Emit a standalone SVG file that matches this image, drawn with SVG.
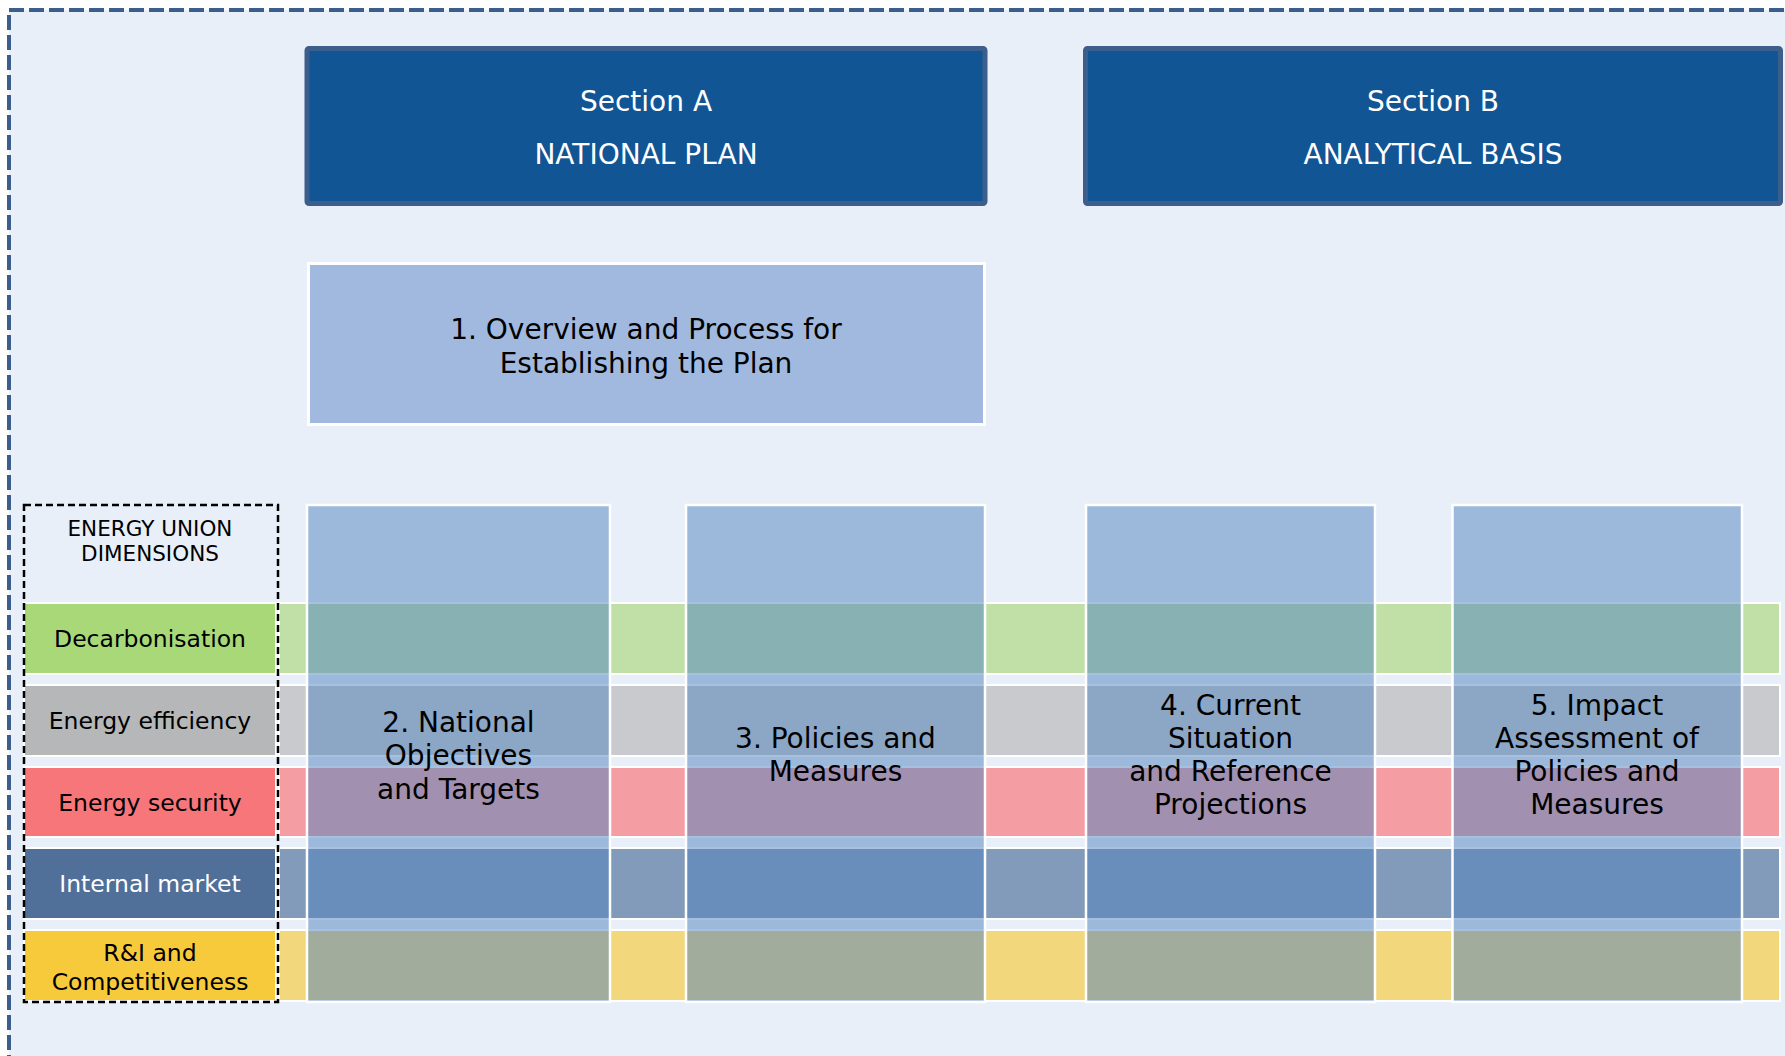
<svg xmlns="http://www.w3.org/2000/svg" width="1785" height="1056" viewBox="0 0 1785 1056">
  <style>
    text { font-family: "DejaVu Sans", Verdana, sans-serif; text-anchor: middle; }
    .sec { fill: #115595; stroke: #3b5e8c; stroke-width: 5; }
    .sectxt { fill: #ffffff; font-size: 28px; }
    .coltxt { fill: #000000; font-size: 28px; }
    .lbl { stroke: #ffffff; stroke-width: 2; }
    .band { stroke: #ffffff; stroke-width: 2; }
    .lbltxt { fill: #000000; font-size: 23.5px; }
    .col { fill: #4f81bd; fill-opacity: 0.5; stroke: #ffffff; stroke-width: 2.5; }
  </style>
  <rect x="0" y="0" width="1785" height="1056" fill="#ffffff"/>
  <rect id="frame" x="9" y="10" width="1800" height="1100" fill="#e8eff9" stroke="#3b5e8c" stroke-width="4" stroke-dasharray="15 5"/>

  <g id="section-a">
    <rect class="sec" x="307" y="48.5" width="678" height="155" rx="2"/>
    <text class="sectxt" x="646" y="111">Section A</text>
    <text class="sectxt" x="646" y="164">NATIONAL PLAN</text>
  </g>
  <g id="section-b">
    <rect class="sec" x="1085.5" y="48.5" width="695" height="155" rx="2"/>
    <text class="sectxt" x="1433" y="111">Section B</text>
    <text class="sectxt" x="1433" y="164">ANALYTICAL BASIS</text>
  </g>

  <g id="box-1">
    <rect x="308.5" y="263.5" width="676" height="161" fill="#a1b9de" stroke="#ffffff" stroke-width="3"/>
    <text class="coltxt" x="646" y="339">1. Overview and Process for</text>
    <text class="coltxt" x="646" y="373">Establishing the Plan</text>
  </g>

  <g id="bands">
    <rect class="band" x="279" y="603" width="1501" height="71" fill="#c0e0a8"/>
    <rect class="band" x="279" y="685" width="1501" height="71" fill="#c8cace"/>
    <rect class="band" x="279" y="767" width="1501" height="70" fill="#f49ea4"/>
    <rect class="band" x="279" y="848" width="1501" height="71" fill="#839bba"/>
    <rect class="band" x="279" y="930" width="1501" height="71" fill="#f2d77c"/>
  </g>

  <g id="dimensions">
    <text x="150" y="536" style="font-size:21.5px" fill="#000000">ENERGY UNION</text>
    <text x="150" y="561" style="font-size:21.5px" fill="#000000">DIMENSIONS</text>
    <g id="dim-decarbonisation">
      <rect class="lbl" x="24" y="603" width="252" height="71" fill="#a8d878"/>
      <text class="lbltxt" x="150" y="647">Decarbonisation</text>
    </g>
    <g id="dim-efficiency">
      <rect class="lbl" x="24" y="685" width="252" height="71" fill="#b6b7b9"/>
      <text class="lbltxt" x="150" y="729">Energy efficiency</text>
    </g>
    <g id="dim-security">
      <rect class="lbl" x="24" y="767" width="252" height="70" fill="#f7767a"/>
      <text class="lbltxt" x="150" y="810.5">Energy security</text>
    </g>
    <g id="dim-market">
      <rect class="lbl" x="24" y="848" width="252" height="71" fill="#50709a"/>
      <text class="lbltxt" x="150" y="892" fill="#ffffff" style="fill:#ffffff">Internal market</text>
    </g>
    <g id="dim-ri">
      <rect class="lbl" x="24" y="930" width="252" height="71" fill="#f7ca3c"/>
      <text class="lbltxt" x="150" y="961">R&amp;I and</text>
      <text class="lbltxt" x="150" y="990">Competitiveness</text>
    </g>
    <rect id="dim-frame" x="24" y="505" width="254" height="497" fill="none" stroke="#000000" stroke-width="2.5" stroke-dasharray="7 4"/>
  </g>

  <g id="col-2">
    <rect class="col" x="307" y="505" width="303" height="497"/>
    <text class="coltxt" x="458.5" y="732">2. National</text>
    <text class="coltxt" x="458.5" y="765">Objectives</text>
    <text class="coltxt" x="458.5" y="799">and Targets</text>
  </g>
  <g id="col-3">
    <rect class="col" x="686" y="505" width="299" height="497"/>
    <text class="coltxt" x="835.5" y="748">3. Policies and</text>
    <text class="coltxt" x="835.5" y="781">Measures</text>
  </g>
  <g id="col-4">
    <rect class="col" x="1086" y="505" width="289" height="497"/>
    <text class="coltxt" x="1230.5" y="715">4. Current</text>
    <text class="coltxt" x="1230.5" y="748">Situation</text>
    <text class="coltxt" x="1230.5" y="781">and Reference</text>
    <text class="coltxt" x="1230.5" y="814">Projections</text>
  </g>
  <g id="col-5">
    <rect class="col" x="1452.5" y="505" width="289.5" height="497"/>
    <text class="coltxt" x="1597" y="715">5. Impact</text>
    <text class="coltxt" x="1597" y="748">Assessment of</text>
    <text class="coltxt" x="1597" y="781">Policies and</text>
    <text class="coltxt" x="1597" y="814">Measures</text>
  </g>
  <g id="connectors"/>
</svg>
